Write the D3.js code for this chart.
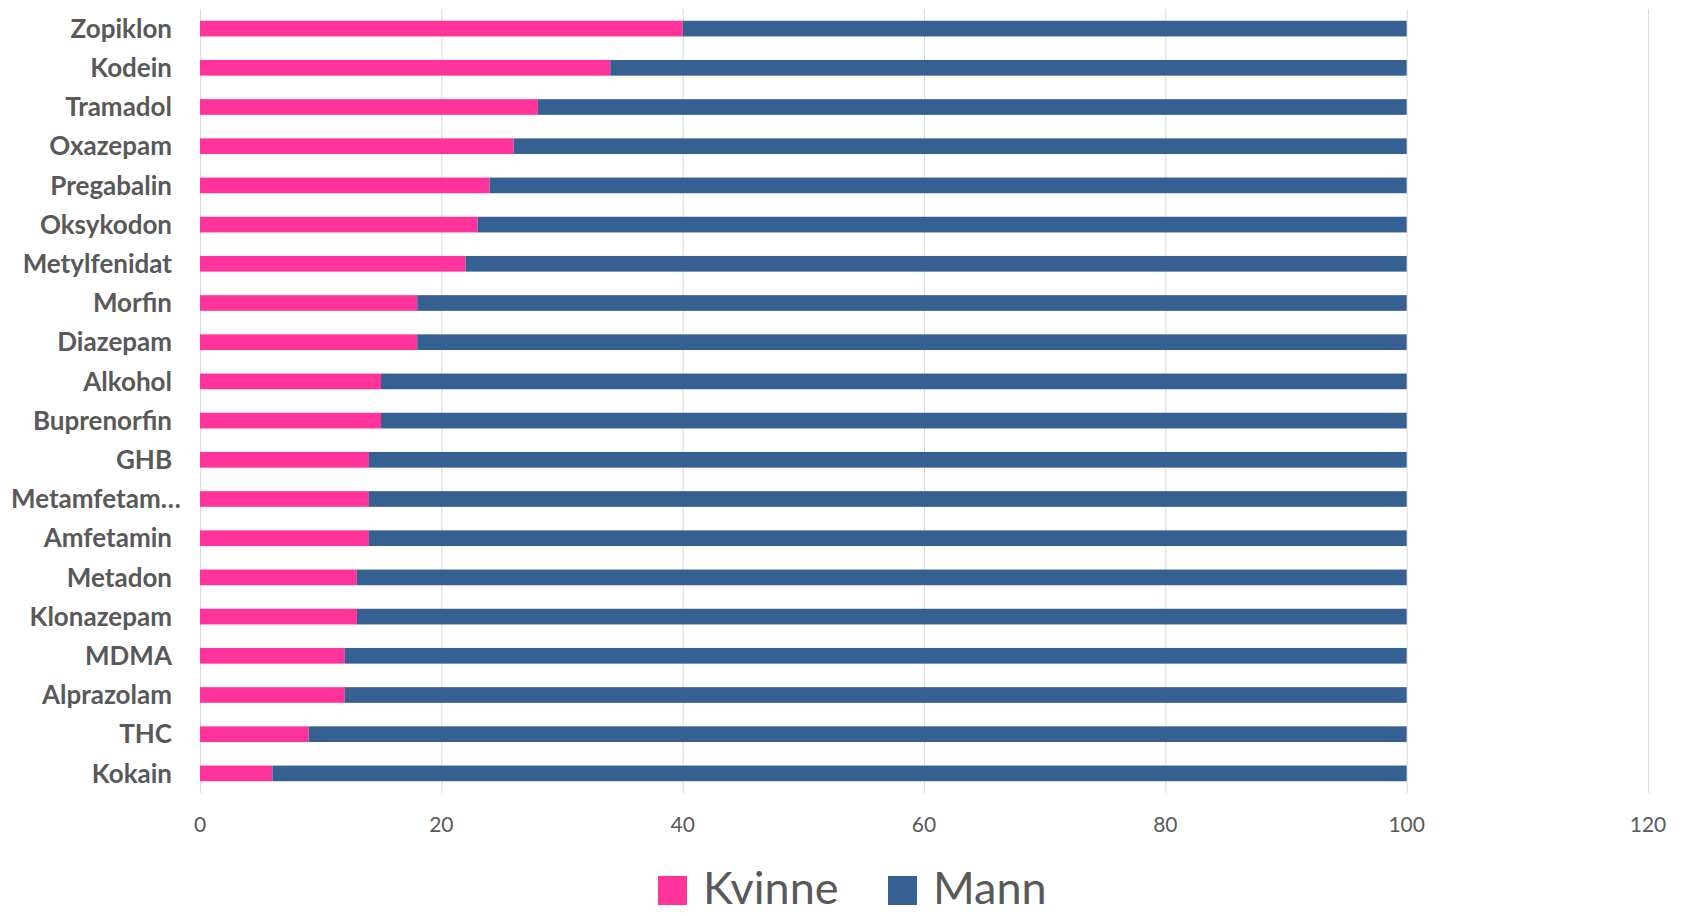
<!DOCTYPE html>
<meta charset="utf-8">
<script src="https://d3js.org/d3.v7.min.js"></script>
<style>
body { margin: 0; background: #fff; }
text { font-family: Lato, "Open Sans", sans-serif; fill: #595959; }
</style>
<body>
<div id="chart"></div>
<script>

// data
var categories = ["Zopiklon", "Kodein", "Tramadol", "Oxazepam", "Pregabalin", "Oksykodon",
  "Metylfenidat", "Morfin", "Diazepam", "Alkohol", "Buprenorfin", "GHB", "Metamfetam…",
  "Amfetamin", "Metadon", "Klonazepam", "MDMA", "Alprazolam", "THC", "Kokain"];
var kvinne = [40, 34, 28, 26, 24, 23, 22, 18, 18, 15, 15, 14, 14, 14, 13, 13, 12, 12, 9, 6];
var mann   = [60, 66, 72, 74, 76, 77, 78, 82, 82, 85, 85, 86, 86, 86, 87, 87, 88, 88, 91, 94];
var xTicks = [0, 20, 40, 60, 80, 100, 120];
var seriesNames = ["Kvinne", "Mann"];
var colors = ["#FF3399", "#376092"];

var W = 1686, H = 916;
var margin = {top: 9, right: 38, bottom: 123, left: 200};
var width = W - margin.left - margin.right,
    height = H - margin.top - margin.bottom;

var svg = d3.select("#chart").append("svg")
    .attr("width", W)
    .attr("height", H);

var g = svg.append("g")
    .attr("transform", "translate(" + margin.left + "," + margin.top + ")");

var x = d3.scaleLinear().domain([0, 120]).range([0, width]);
var y = d3.scaleBand().domain(categories).range([0, height])
    .paddingInner(0.6).paddingOuter(0.3);

// gridlines
g.selectAll(".grid")
  .data(xTicks)
  .enter().append("line")
    .attr("x1", function(d) { return x(d) + 0.5; })
    .attr("x2", function(d) { return x(d) + 0.5; })
    .attr("y1", 0)
    .attr("y2", height)
    .attr("stroke", "#d9d9d9")
    .attr("stroke-width", 1);

// stacked bars
var rows = categories.map(function(c, i) { return {cat: c, Kvinne: kvinne[i], Mann: mann[i]}; });
var stack = d3.stack().keys(seriesNames)(rows);

g.selectAll(".series")
  .data(stack)
  .enter().append("g")
    .attr("fill", function(d, i) { return colors[i]; })
  .selectAll("rect")
  .data(function(d) { return d; })
  .enter().append("rect")
    .attr("x", function(d) { return x(d[0]); })
    .attr("width", function(d) { return x(d[1]) - x(d[0]); })
    .attr("y", function(d) { return y(d.data.cat); })
    .attr("height", y.bandwidth());

// category labels
g.selectAll(".cat")
  .data(categories)
  .enter().append("text")
    .attr("x", function(d) { return d.slice(-1) == "…" ? -189 : -28; })
    .attr("y", function(d) { return y(d) + y.bandwidth() / 2; })
    .attr("dy", "0.35em")
    .attr("text-anchor", function(d) { return d.slice(-1) == "…" ? "start" : "end"; })
    .style("font-weight", "bold")
    .style("font-size", "26px")
    .text(function(d) { return d; });

// x tick labels
g.selectAll(".tick")
  .data(xTicks)
  .enter().append("text")
    .attr("x", function(d) { return x(d); })
    .attr("y", height + 32)
    .attr("dy", "0.35em")
    .attr("text-anchor", "middle")
    .style("font-size", "21px")
    .text(function(d) { return d; });

// legend
var legendX = [658, 888];
var legend = svg.selectAll(".legend")
  .data(seriesNames)
  .enter().append("g")
    .attr("transform", function(d, i) { return "translate(" + legendX[i] + ",876)"; });
legend.append("rect")
    .attr("width", 29)
    .attr("height", 29)
    .attr("fill", function(d, i) { return colors[i]; });
legend.append("text")
    .attr("x", 45)
    .attr("y", 12)
    .attr("dy", "0.36em")
    .style("font-size", "45px")
    .text(function(d) { return d; });

</script>
</body>
